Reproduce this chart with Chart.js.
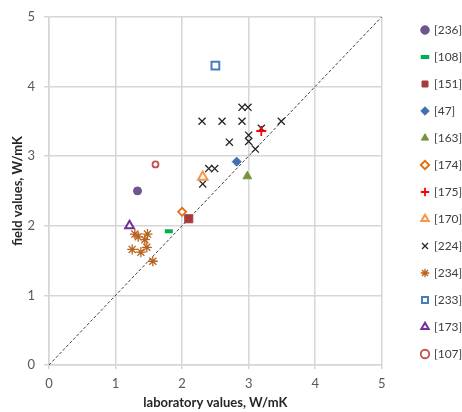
<!DOCTYPE html>
<html>
<head>
<meta charset="utf-8">
<script src="https://cdn.jsdelivr.net/npm/chart.js@4"></script>
<style>
  html, body { margin: 0; padding: 0; background: #fff; }
  #wrap { width: 462px; height: 412px; }
</style>
</head>
<body>
<div id="wrap"><canvas id="chart" width="462" height="412"></canvas></div>
<script>
// Werte (x = Labor, y = Feld, W/mK)
const refLabels = ['[236]', '[108]', '[151]', '[47]', '[163]', '[174]', '[175]', '[170]', '[224]', '[234]', '[233]', '[173]', '[107]'];

const lab236 = [1.33];             const field236 = [2.5];
const lab108 = [1.8];              const field108 = [1.92];
const lab151 = [2.1];              const field151 = [2.1];
const lab47 = [2.82];              const field47 = [2.92];
const lab163 = [2.98];             const field163 = [2.71];
const lab174 = [2.0];              const field174 = [2.2];
const lab175 = [3.19];             const field175 = [3.36];
const lab170 = [2.31];             const field170 = [2.7];
const lab224 = [2.9, 2.99, 2.3, 2.6, 2.9, 3.49, 3.19, 2.71, 3.0, 3.0, 3.1, 2.4, 2.49, 2.31];
const field224 = [3.7, 3.7, 3.5, 3.5, 3.5, 3.5, 3.4, 3.2, 3.3, 3.21, 3.1, 2.82, 2.82, 2.6];
const lab234 = [1.29, 1.34, 1.48, 1.44, 1.47, 1.25, 1.38, 1.56];
const field234 = [1.88, 1.84, 1.88, 1.8, 1.69, 1.66, 1.62, 1.49];
const lab233 = [2.5];              const field233 = [4.3];
const lab173 = [1.21];             const field173 = [2.0];
const lab107 = [1.6];              const field107 = [2.88];

const axisTicks = [0, 1, 2, 3, 4, 5];
const diagonal = [0, 5];

const zip = (xs, ys) => xs.map((x, i) => ({ x: x, y: ys[i] }));

function series(label, xs, ys, style, color, fill, radius, bw) {
    return {
        label: label,
        data: zip(xs, ys),
        pointStyle: style,
        pointRadius: radius,
        pointBorderWidth: bw,
        pointBorderColor: color,
        pointBackgroundColor: fill === null ? color : fill,
        borderColor: color,
        backgroundColor: fill === null ? color : fill,
        showLine: false,
    };
}

const datasets = [
    series(refLabels[0], lab236, field236, 'circle', '#6f5392', null, 4, 1),
    series(refLabels[1], lab108, field108, 'line', '#00b050', null, 4, 4),
    series(refLabels[2], lab151, field151, 'rect', '#a53c3a', null, 5.7, 1),
    series(refLabels[3], lab47, field47, 'rectRot', '#4170b0', null, 4.5, 1),
    series(refLabels[4], lab163, field163, 'triangle', '#77933c', null, 5, 1),
    series(refLabels[5], lab174, field174, 'rectRot', '#e46c0a', '#fff', 4, 1.8),
    series(refLabels[6], lab175, field175, 'cross', '#ff0000', null, 5, 1.8),
    series(refLabels[7], lab170, field170, 'triangle', '#f79646', '#fff', 5.5, 2),
    series(refLabels[8], lab224, field224, 'crossRot', '#262626', null, 5, 1.3),
    series(refLabels[9], lab234, field234, 'star', '#b8621b', null, 5, 1.3),
    series(refLabels[10], lab233, field233, 'rect', '#4a7ebb', '#fff', 5.5, 2),
    series(refLabels[11], lab173, field173, 'triangle', '#7030a0', '#fff', 5, 2),
    series(refLabels[12], lab107, field107, 'circle', '#c0504d', '#fff', 3, 1.8),
    {
        type: 'line',
        label: '1:1',
        data: zip(diagonal, diagonal),
        borderColor: '#404040',
        borderWidth: 1,
        borderDash: [3, 2],
        pointRadius: 0,
        fill: false,
    },
];

// Legende an feste Position schieben
const legendPlace = {
    id: 'legendPlace',
    afterLayout(chart) {
        const lg = chart.legend;
        const dx = 407 - lg.left;
        const dy = 9 - lg.top;
        lg.left += dx; lg.right += dx;
        lg.top += dy; lg.bottom += dy;
    },
};

Chart.defaults.font.family = 'Lato, "Open Sans", sans-serif';
Chart.defaults.color = '#595959';

const gridColor = '#d6d6d6';

new Chart(document.getElementById('chart'), {
    type: 'scatter',
    data: { datasets: datasets },
    plugins: [legendPlace],
    options: {
        responsive: false,
        animation: false,
        events: [],
        layout: { padding: { top: 15, right: 15, bottom: 0, left: 0 } },
        plugins: {
            tooltip: { enabled: false },
            legend: {
                position: 'right',
                align: 'start',
                labels: {
                    usePointStyle: true,
                    boxWidth: 6,
                    boxHeight: 6,
                    padding: 15,
                    color: '#404040',
                    font: { size: 12 },
                    filter: (item) => item.datasetIndex < refLabels.length,
                },
            },
        },
        scales: {
            x: {
                type: 'linear',
                min: axisTicks[0],
                max: axisTicks[axisTicks.length - 1],
                afterBuildTicks: (s) => { s.ticks = axisTicks.map(v => ({ value: v })); },
                afterFit: (s) => { s.height = 47; },
                ticks: { padding: 7, font: { size: 13 }, color: '#595959' },
                grid: { color: gridColor, lineWidth: 1.5, tickLength: 4 },
                border: { color: gridColor, width: 1.5 },
                title: {
                    display: true,
                    text: 'laboratory values, W/mK',
                    color: '#262626',
                    font: { size: 13, weight: 'bold' },
                    padding: { top: 0, bottom: 1 },
                },
            },
            y: {
                type: 'linear',
                min: axisTicks[0],
                max: axisTicks[axisTicks.length - 1],
                afterBuildTicks: (s) => { s.ticks = axisTicks.map(v => ({ value: v })); },
                afterFit: (s) => { s.width = 49; },
                ticks: { padding: 9, font: { size: 13 }, color: '#595959' },
                grid: { color: gridColor, lineWidth: 1.5, tickLength: 5 },
                border: { color: gridColor, width: 1.5 },
                title: {
                    display: true,
                    text: 'field values, W/mK',
                    color: '#262626',
                    font: { size: 13, weight: 'bold' },
                    padding: { top: 10, bottom: 0 },
                },
            },
        },
    },
});
</script>
</body>
</html>
